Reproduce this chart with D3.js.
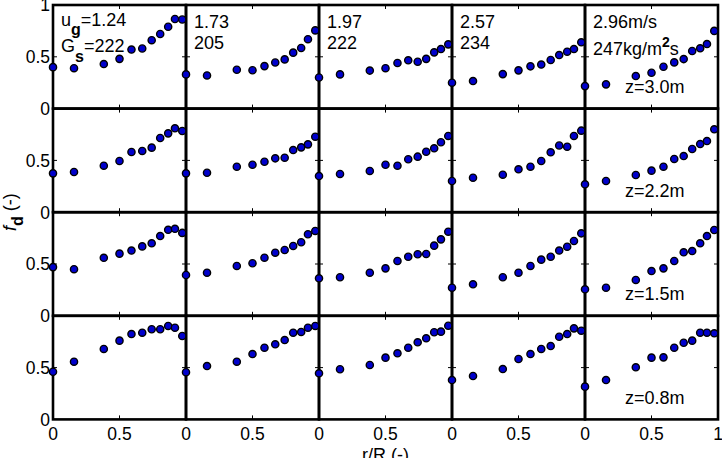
<!DOCTYPE html>
<html>
<head>
<meta charset="utf-8">
<script src="https://cdn.jsdelivr.net/npm/d3@7"></script>
<style>
  body { margin: 0; background: #fff; }
  svg { display: block; font-family: Arial, "Liberation Sans", sans-serif; }
</style>
</head>
<body>
<svg id="chart" width="722" height="458"></svg>
<script>
// radial positions r/R (same in every panel)
const rR = [0, 0.158, 0.382, 0.5, 0.59, 0.671, 0.742, 0.806, 0.866, 0.917, 0.972];

// f_d per height z, one array per gas velocity column
const fdZ30 = [
  [0.40, 0.39, 0.43, 0.48, 0.57, 0.58, 0.66, 0.72, 0.79, 0.865, 0.86],
  [0.33, 0.32, 0.375, 0.37, 0.41, 0.445, 0.475, 0.54, 0.585, 0.67, 0.755],
  [0.30, 0.33, 0.367, 0.39, 0.44, 0.466, 0.452, 0.48, 0.543, 0.575, 0.62],
  [0.25, 0.266, 0.333, 0.369, 0.408, 0.425, 0.469, 0.517, 0.549, 0.575, 0.64],
  [0.217, 0.234, 0.314, 0.346, 0.404, 0.446, 0.478, 0.556, 0.582, 0.623, 0.75]
];
const fdZ22 = [
  [0.375, 0.388, 0.449, 0.494, 0.581, 0.591, 0.623, 0.716, 0.761, 0.81, 0.784],
  [0.375, 0.381, 0.439, 0.458, 0.487, 0.52, 0.526, 0.60, 0.626, 0.655, 0.729],
  [0.349, 0.369, 0.398, 0.458, 0.449, 0.511, 0.536, 0.584, 0.617, 0.675, 0.736],
  [0.301, 0.333, 0.362, 0.414, 0.439, 0.494, 0.578, 0.644, 0.632, 0.736, 0.787],
  [0.269, 0.301, 0.359, 0.401, 0.439, 0.514, 0.542, 0.61, 0.658, 0.687, 0.80]
];
const fdZ15 = [
  [0.47, 0.45, 0.56, 0.60, 0.63, 0.67, 0.70, 0.77, 0.83, 0.84, 0.80],
  [0.394, 0.416, 0.481, 0.507, 0.561, 0.609, 0.635, 0.674, 0.71, 0.787, 0.819],
  [0.362, 0.372, 0.416, 0.458, 0.529, 0.57, 0.594, 0.597, 0.677, 0.738, 0.812],
  [0.271, 0.304, 0.372, 0.416, 0.481, 0.542, 0.57, 0.63, 0.667, 0.722, 0.796],
  [0.256, 0.271, 0.346, 0.432, 0.458, 0.529, 0.613, 0.625, 0.70, 0.77, 0.828]
];
const fdZ08 = [
  [0.46, 0.557, 0.68, 0.76, 0.824, 0.837, 0.87, 0.87, 0.902, 0.885, 0.805],
  [0.455, 0.515, 0.557, 0.631, 0.692, 0.725, 0.766, 0.837, 0.844, 0.885, 0.902],
  [0.445, 0.484, 0.525, 0.596, 0.638, 0.692, 0.744, 0.783, 0.841, 0.847, 0.904],
  [0.38, 0.419, 0.486, 0.583, 0.631, 0.68, 0.708, 0.798, 0.824, 0.879, 0.856],
  [0.316, 0.38, 0.503, 0.596, 0.599, 0.692, 0.74, 0.76, 0.837, 0.837, 0.831]
];
const rows = [fdZ30, fdZ22, fdZ15, fdZ08];

const ugLabels = ["1.24", "1.73", "1.97", "2.57", "2.96m/s"];
const gsLabels = ["222", "205", "222", "234", "247"];
const zLabels = ["z=3.0m", "z=2.2m", "z=1.5m", "z=0.8m"];
const xTicks = [0, 0.5];
const yTicks = [0, 0.5];

const gridLeft = 53, gridTop = 5, panelW = 133, panelH = 103.6;
const nCols = 5, nRows = 4;

const svg = d3.select("#chart");
const gAxes = svg.append("g");
const gDots = svg.append("g");
const gText = svg.append("g");

for (let r = 0; r < nRows; r++) {
  for (let c = 0; c < nCols; c++) {
    const x = d3.scaleLinear().domain([0, 1]).range([gridLeft + c * panelW, gridLeft + (c + 1) * panelW]);
    const y = d3.scaleLinear().domain([0, 1]).range([gridTop + (r + 1) * panelH, gridTop + r * panelH]);

    // small inward ticks
    const tk = gAxes.append("g").attr("stroke", "#000").attr("stroke-width", 1);
    xTicks.slice(1).forEach(t => {
      tk.append("line").attr("x1", x(t)).attr("x2", x(t)).attr("y1", y(0)).attr("y2", y(0) - 4);
      tk.append("line").attr("x1", x(t)).attr("x2", x(t)).attr("y1", y(1)).attr("y2", y(1) + 4);
    });
    yTicks.slice(1).forEach(t => {
      tk.append("line").attr("x1", x(0)).attr("x2", x(0) + 4).attr("y1", y(t)).attr("y2", y(t));
      tk.append("line").attr("x1", x(1)).attr("x2", x(1) - 4).attr("y1", y(t)).attr("y2", y(t));
    });

    // box
    gAxes.append("rect")
      .attr("x", x(0)).attr("y", y(1))
      .attr("width", x(1) - x(0)).attr("height", y(0) - y(1))
      .attr("fill", "none").attr("stroke", "#000").attr("stroke-width", 2.6);

    // markers
    gDots.selectAll(null)
      .data(rows[r][c].map((v, i) => [rR[i], v]))
      .enter().append("circle")
      .attr("cx", d => x(d[0]))
      .attr("cy", d => y(d[1]))
      .attr("r", 3.6)
      .attr("fill", "#0000cc")
      .attr("stroke", "#000")
      .attr("stroke-width", 1.4);

    // y tick labels
    if (c === 0) {
      const yt = r === 0 ? [0, 0.5, 1] : yTicks;
      yt.forEach(t => {
        gText.append("text")
          .attr("x", 50).attr("y", y(t)).attr("dy", "0.36em")
          .attr("text-anchor", "end").attr("font-size", 17.5)
          .text(t);
      });
    }
    // x tick labels
    if (r === nRows - 1) {
      const xt = c === nCols - 1 ? [0, 0.5, 1] : xTicks;
      xt.forEach(t => {
        gText.append("text")
          .attr("x", x(t)).attr("y", 440)
          .attr("text-anchor", "middle").attr("font-size", 17.5)
          .text(t);
      });
    }
    // height label
    if (c === nCols - 1) {
      gText.append("text")
        .attr("x", x(0) + 40).attr("y", y(0) - 15.5)
        .attr("font-size", 18)
        .text(zLabels[r]);
    }
  }
}

// top row annotations
for (let c = 0; c < nCols; c++) {
  const x0 = gridLeft + c * panelW + 8;
  if (c === 0) {
    const t1 = gText.append("text").attr("x", x0).attr("y", 26).attr("font-size", 18);
    t1.append("tspan").text("u");
    t1.append("tspan").attr("dy", 9).attr("font-size", 16).attr("font-weight", "bold").text("g");
    t1.append("tspan").attr("dy", -9).text("=" + ugLabels[c]);
    const t2 = gText.append("text").attr("x", x0).attr("y", 52).attr("font-size", 18);
    t2.append("tspan").text("G");
    t2.append("tspan").attr("dy", 10).attr("font-size", 16).attr("font-weight", "bold").text("s");
    t2.append("tspan").attr("dy", -10).text("=" + gsLabels[c]);
  } else if (c === nCols - 1) {
    gText.append("text").attr("x", x0).attr("y", 28).attr("font-size", 18).text(ugLabels[c]);
    const t2 = gText.append("text").attr("x", x0).attr("y", 55).attr("font-size", 18);
    t2.append("tspan").text(gsLabels[c] + "kg/m");
    t2.append("tspan").attr("dy", -8).attr("font-size", 14).attr("font-weight", "bold").text("2");
    t2.append("tspan").attr("dy", 8).text("s");
  } else {
    gText.append("text").attr("x", x0).attr("y", 28).attr("font-size", 18).text(ugLabels[c]);
    gText.append("text").attr("x", x0).attr("y", 49).attr("font-size", 18).text(gsLabels[c]);
  }
}

// axis titles
gText.append("text")
  .attr("x", gridLeft + 2.5 * panelW).attr("y", 461)
  .attr("text-anchor", "middle").attr("font-size", 18)
  .text("r/R (-)");

const yl = gText.append("text")
  .attr("transform", "translate(16," + (gridTop + 2 * panelH) + ") rotate(-90)")
  .attr("text-anchor", "middle").attr("font-size", 18);
yl.append("tspan").attr("font-style", "italic").text("f");
yl.append("tspan").attr("dy", 7).attr("font-size", 16).attr("font-weight", "bold").text("d");
yl.append("tspan").attr("dy", -7).text(" (-)");
</script>
</body>
</html>
